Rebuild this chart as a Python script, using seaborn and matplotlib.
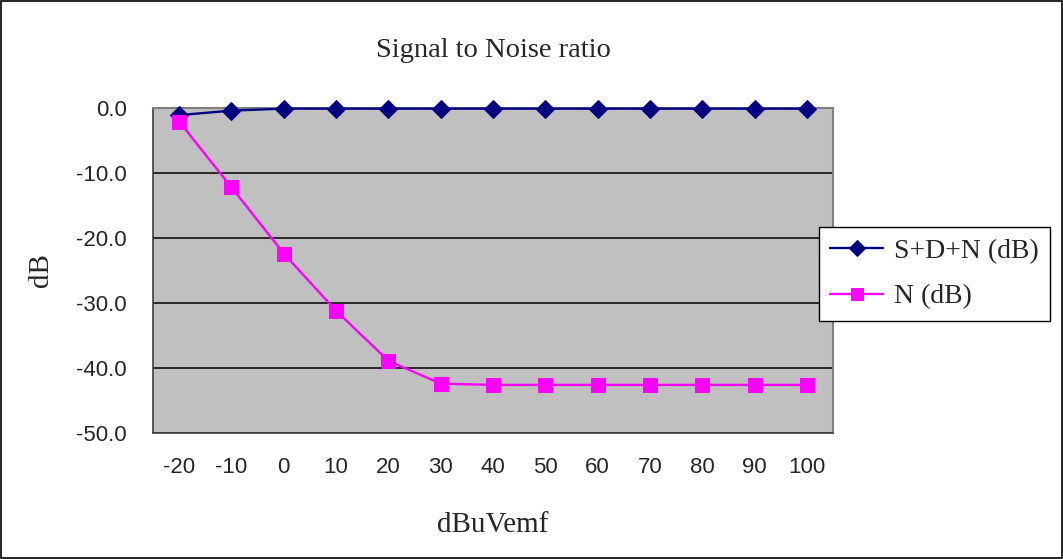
import matplotlib
matplotlib.use("Agg")
import matplotlib.pyplot as plt
import seaborn as sns
import pandas as pd
import numpy as np
from matplotlib.patches import Rectangle

categories = ["-20", "-10", "0", "10", "20", "30", "40", "50", "60", "70", "80", "90", "100"]
sdn_db = [-1.1, -0.4, -0.1, -0.1, -0.1, -0.1, -0.1, -0.1, -0.1, -0.1, -0.1, -0.1, -0.1]
n_db = [-2.1, -12.2, -22.4, -31.2, -38.9, -42.4, -42.6, -42.6, -42.6, -42.6, -42.6, -42.6, -42.6]
series_names = ["S+D+N (dB)", "N (dB)"]
y_ticks = [0, -10, -20, -30, -40, -50]

sns.set_style("white")
plt.rcParams["axes.unicode_minus"] = False
plt.rcParams["font.family"] = ["Liberation Serif", "DejaVu Serif"]

df = pd.DataFrame({
    "x": categories * 2,
    "y": sdn_db + n_db,
    "series": [series_names[0]] * len(categories) + [series_names[1]] * len(categories),
})

fig = plt.figure(figsize=(10.63, 5.59), dpi=100)
fig.patch.set_facecolor("white")
ax = fig.add_axes([153 / 1063, 1 - 433 / 559, 680 / 1063, 325 / 559])
ax.set_facecolor("#C0C0C0")

palette = {series_names[0]: "#000080", series_names[1]: "#FF00FF"}
markers = {series_names[0]: "D", series_names[1]: "s"}
sizes = {series_names[0]: 9.5, series_names[1]: 10}
for name in series_names:
    sub = df[df["series"] == name]
    sns.lineplot(data=sub, x="x", y="y", ax=ax, color=palette[name],
                 marker=markers[name], markersize=sizes[name],
                 markeredgecolor=palette[name], linewidth=1.7, label=name,
                 sort=False, zorder=3, clip_on=False)

ax.set_xlim(-0.5, len(categories) - 0.5)
ax.set_ylim(-50, 0)
ax.set_yticks(y_ticks)
ax.set_yticklabels([f"{v:.1f}" for v in y_ticks], fontfamily="Liberation Sans", fontsize=16)
ax.set_xticks(range(len(categories)))
ax.set_xticklabels(categories, fontfamily="Liberation Sans", fontsize=16)
ax.set_xticks(np.arange(-0.5, len(categories), 1.0), minor=True)
ax.tick_params(axis="x", which="major", length=0, pad=17)
ax.tick_params(axis="x", which="minor", direction="in", length=6, width=1, color="#404040")
ax.tick_params(axis="y", which="major", direction="in", length=6, width=1, color="#404040", pad=19)

ax.grid(axis="y", color="black", linewidth=1.1)
ax.set_axisbelow(True)
for s in ["left", "bottom"]:
    ax.spines[s].set_color("#404040")
    ax.spines[s].set_linewidth(1.2)
for s in ["top", "right"]:
    ax.spines[s].set_color("#808080")
    ax.spines[s].set_linewidth(1.5)

ax.set_xlabel("dBuVemf", fontsize=21)
ax.set_ylabel("dB", fontsize=21)
ax.xaxis.set_label_coords(0.5, -(525 - 433) / 325)
ax.xaxis.label.set_verticalalignment("center")
ax.yaxis.set_label_coords((41 - 153) / 680, 0.5)
ax.yaxis.label.set_verticalalignment("center")
ax.yaxis.label.set_horizontalalignment("center")
ax.set_title("Signal to Noise ratio", fontsize=20.5, y=1 + (108 - 59) / 325, va="center")

leg = ax.legend(loc="center left", bbox_to_anchor=(819 / 1063, 1 - 274 / 559),
                bbox_transform=fig.transFigure, fontsize=20, frameon=True,
                fancybox=False, edgecolor="black", facecolor="white", framealpha=1,
                handlelength=1.9, handletextpad=0.4, borderpad=0.4, labelspacing=0.72,
                borderaxespad=0)
leg.get_frame().set_linewidth(1.0)
for h in leg.legend_handles:
    h.set_markersize(8)

fig.patches.append(Rectangle((0.001, 0.001), 0.998, 0.997, transform=fig.transFigure,
                             fill=False, edgecolor="black", linewidth=1.2))

fig.savefig("out.png", dpi=100)
